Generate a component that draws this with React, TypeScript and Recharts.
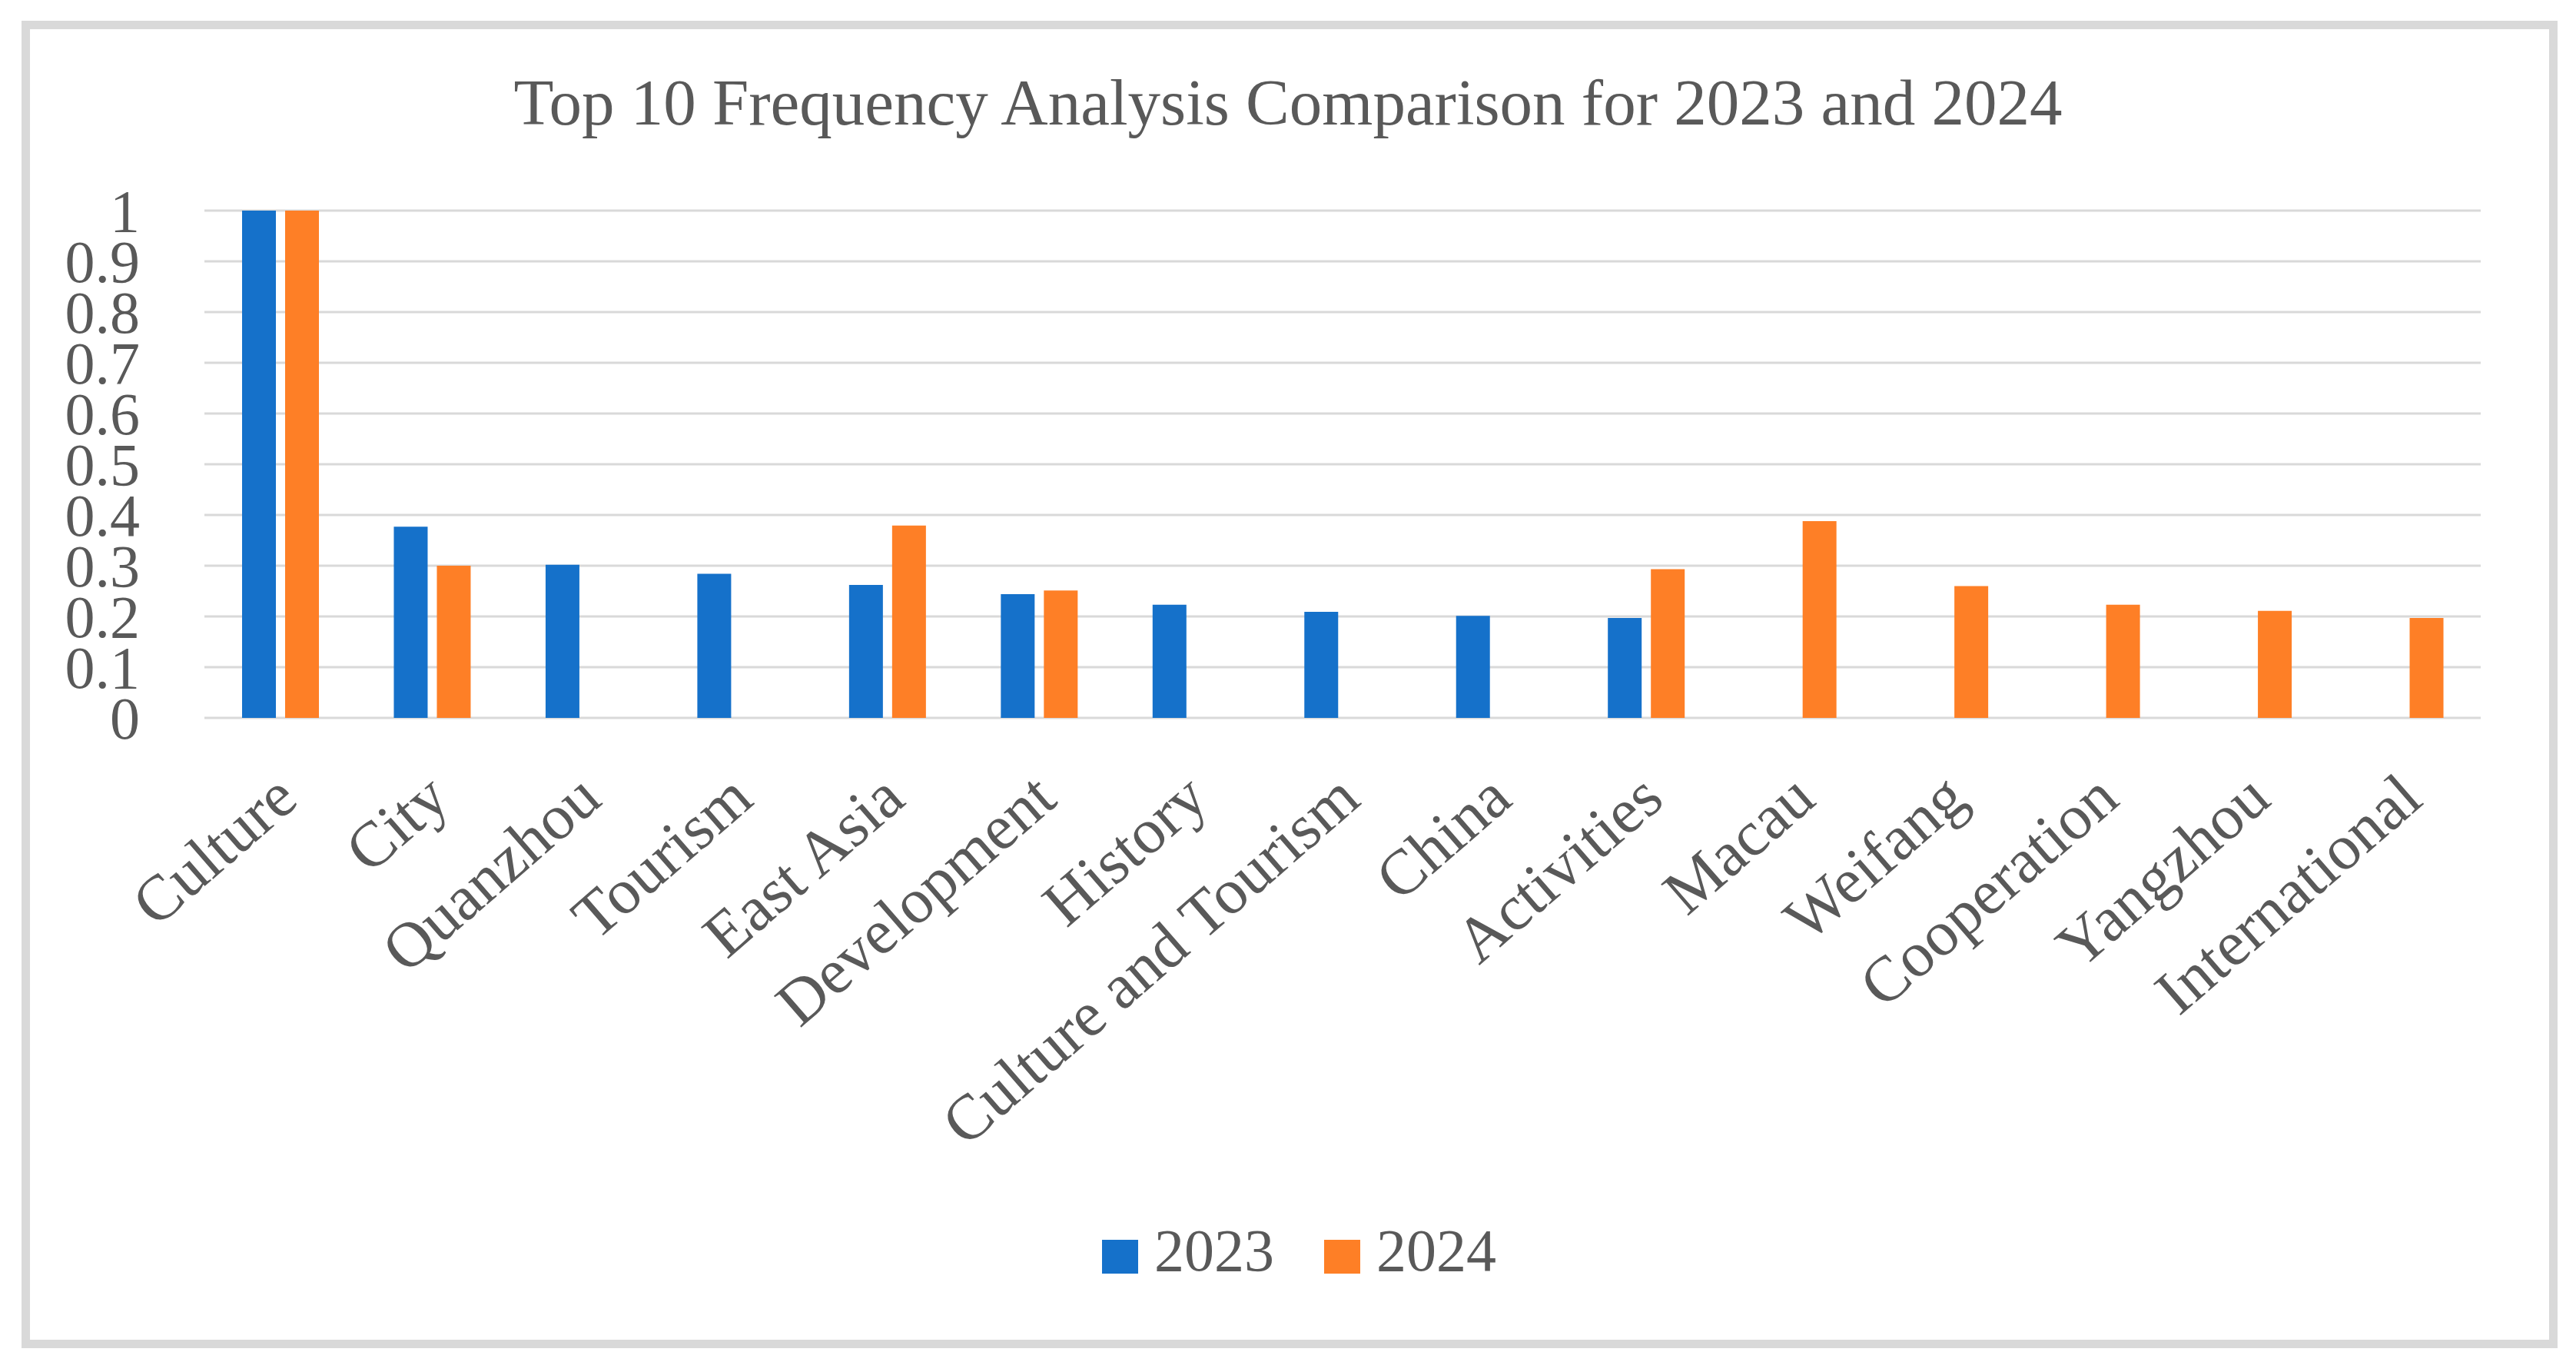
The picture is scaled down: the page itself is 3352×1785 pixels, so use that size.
import React from 'react';
import { BarChart, Bar, XAxis, YAxis, CartesianGrid, Legend } from 'recharts';

const categories = [
  'Culture', 'City', 'Quanzhou', 'Tourism', 'East Asia', 'Development', 'History',
  'Culture and Tourism', 'China', 'Activities', 'Macau', 'Weifang', 'Cooperation',
  'Yangzhou', 'International',
];
const values2023 = [1, 0.377, 0.302, 0.284, 0.262, 0.244, 0.223, 0.209, 0.201, 0.197, null, null, null, null, null];
const values2024 = [1, 0.3, null, null, 0.379, 0.251, null, null, null, 0.293, 0.388, 0.26, 0.223, 0.211, 0.197];
const yTicks = [0, 0.1, 0.2, 0.3, 0.4, 0.5, 0.6, 0.7, 0.8, 0.9, 1];
const seriesNames = ['2023', '2024'];
const seriesColors = ['#1571CA', '#FE7F26'];
const title = 'Top 10 Frequency Analysis Comparison for 2023 and 2024';

const data = categories.map((name, i) => ({ name, y2023: values2023[i], y2024: values2024[i] }));

const FONT = "'Liberation Serif', 'Times New Roman', serif";
const TEXT = '#595959';

const XTick = (props: any) => {
  const { x, y, payload } = props;
  return (
    <g transform={`translate(${x - 12},${y})`}>
      <text transform="rotate(-41)" textAnchor="end" dy="0.7em" fill={TEXT} fontFamily={FONT} fontSize={83}>
        {payload.value}
      </text>
    </g>
  );
};

const YTick = (props: any) => {
  const { x, y, payload } = props;
  return (
    <text x={x} y={y} dy="0.34em" textAnchor="end" fill={TEXT} fontFamily={FONT} fontSize={78}>
      {String(payload.value)}
    </text>
  );
};

const LegendContent = (props: any) => {
  const payload = props.payload || [];
  return (
    <div style={{ display: 'flex', alignItems: 'flex-start', height: 80 }}>
      {payload.map((p: any, i: number) => (
        <div key={i} style={{ display: 'flex', alignItems: 'flex-start', marginRight: 65 }}>
          <div style={{ width: 47, height: 44, marginTop: 25, background: p.color, marginRight: 21 }} />
          <span style={{ fontFamily: FONT, fontSize: 78, lineHeight: '78px', color: TEXT }}>{p.value}</span>
        </div>
      ))}
    </div>
  );
};

export default function App() {
  return (
    <div style={{ position: 'absolute', left: 0, top: 0, width: 3352, height: 1785, background: '#fff', overflow: 'hidden' }}>
      <div
        style={{
          position: 'absolute', left: 28, top: 27, width: 3300, height: 1727,
          border: '11px solid #d9d9d9', boxSizing: 'border-box',
        }}
      />
      <div
        style={{
          position: 'absolute', left: 0, top: 91, width: 3352, textAlign: 'center',
          fontFamily: FONT, fontSize: 85, lineHeight: '85px', color: TEXT, whiteSpace: 'nowrap',
        }}
      >
        {title}
      </div>
      <div style={{ position: 'absolute', left: 0, top: 0 }}>
        <BarChart
          width={3352}
          height={1785}
          data={data}
          margin={{ top: 274, right: 124, bottom: 0, left: 0 }}
          barGap={12}
        >
          <CartesianGrid vertical={false} stroke="#d9d9d9" strokeWidth={3} />
          <XAxis
            dataKey="name"
            interval={0}
            height={851}
            tickSize={0}
            tickMargin={67}
            axisLine={false}
            tickLine={false}
            tick={<XTick />}
          />
          <YAxis
            type="number"
            domain={[0, 1]}
            ticks={yTicks}
            width={266}
            tickSize={0}
            tickMargin={84}
            axisLine={false}
            tickLine={false}
            tick={<YTick />}
          />
          <Legend
            layout="horizontal"
            verticalAlign="middle"
            align="center"
            wrapperStyle={{ top: 1588, left: 1434, width: 700 }}
            content={<LegendContent />}
          />
          <Bar dataKey="y2023" name={seriesNames[0]} fill={seriesColors[0]} barSize={44} isAnimationActive={false} />
          <Bar dataKey="y2024" name={seriesNames[1]} fill={seriesColors[1]} barSize={44} isAnimationActive={false} />
        </BarChart>
      </div>
    </div>
  );
}
